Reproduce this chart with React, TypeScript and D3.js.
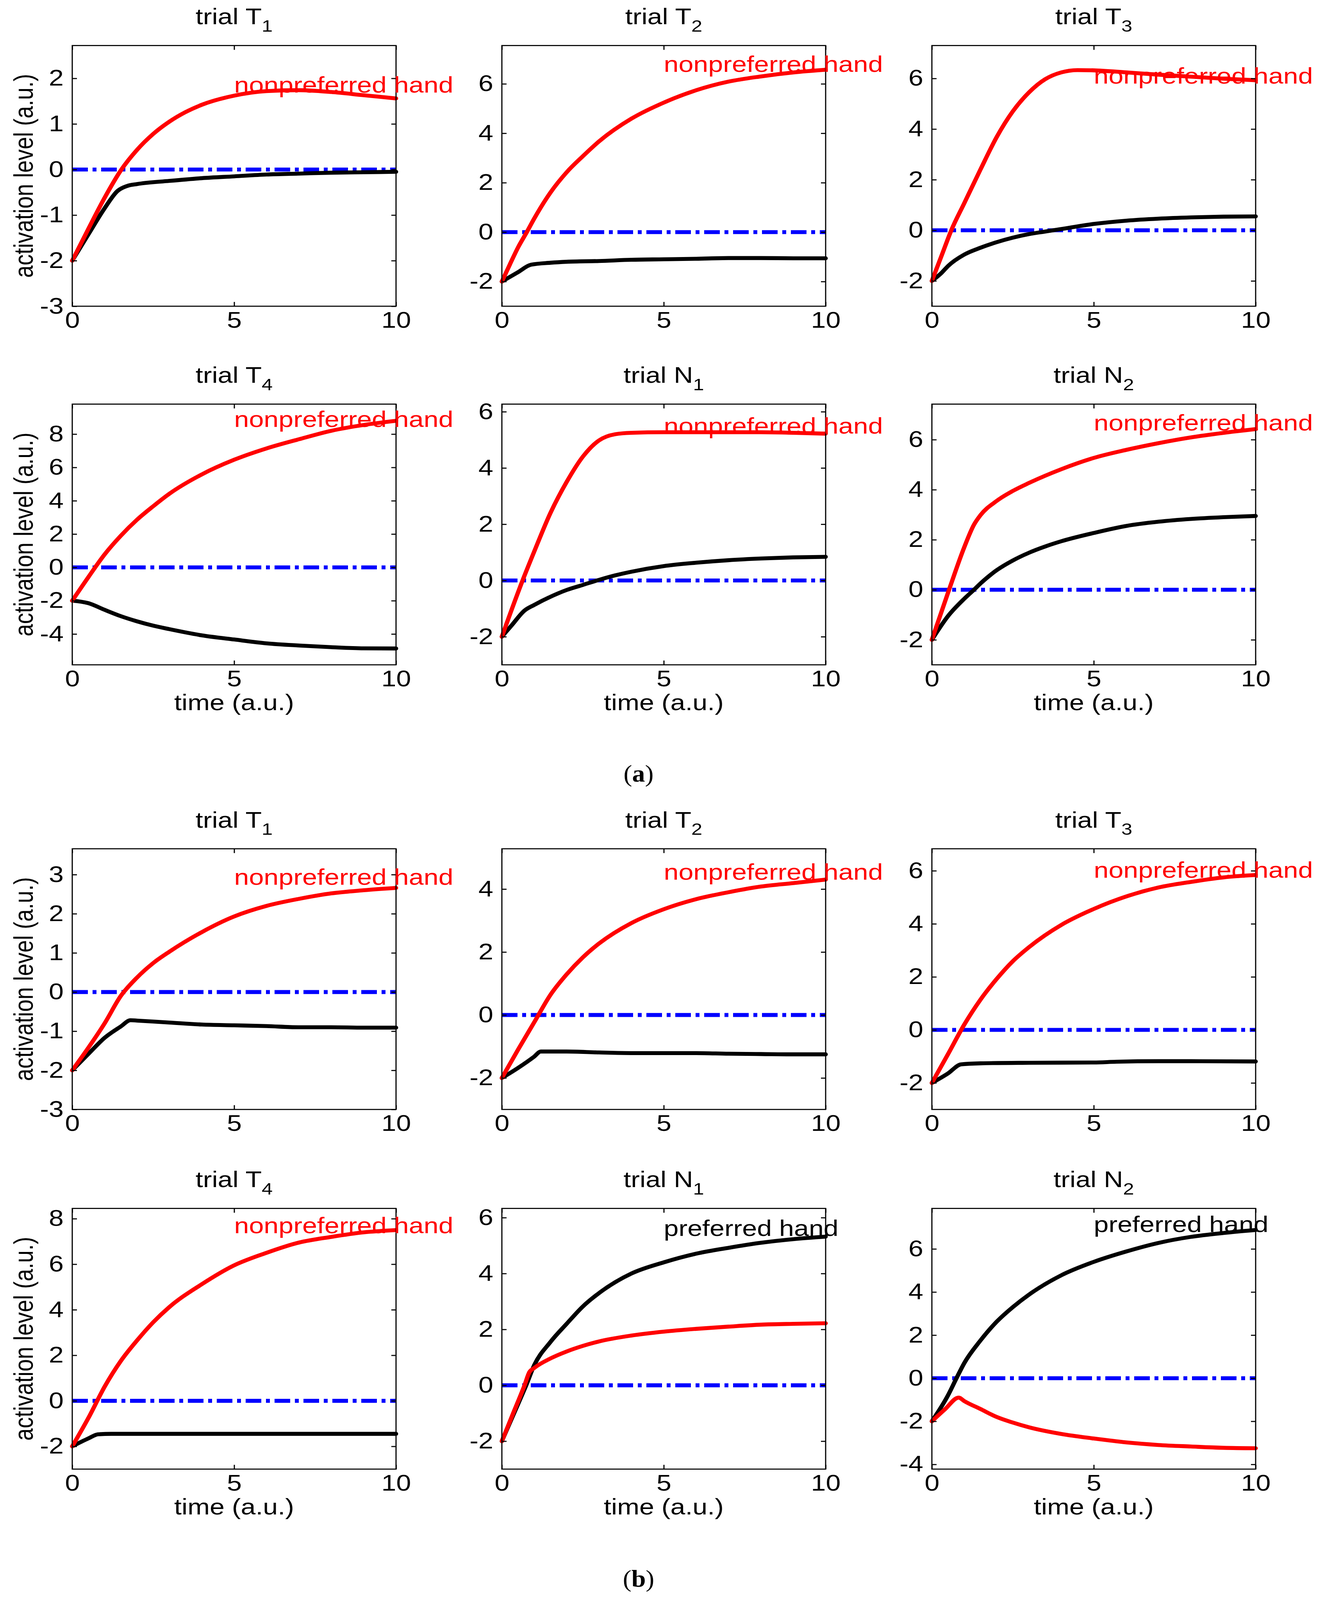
import { useEffect, useRef } from 'react';
import * as d3 from 'd3';

type Pt = [number, number];

// ---- (a) panels: [time, activation] ----
const a1Red: Pt[] = [[0, -2], [0.5, -1.3], [1, -0.62], [1.5, -0.02], [2, 0.43], [2.5, 0.78], [3, 1.05], [3.5, 1.26], [4, 1.42], [5, 1.62], [6, 1.72], [7, 1.74], [8, 1.7], [9, 1.63], [10, 1.56]];
const a1Black: Pt[] = [[0, -2], [0.5, -1.42], [1, -0.85], [1.4, -0.47], [1.7, -0.36], [2, -0.32], [3, -0.25], [4, -0.19], [5, -0.15], [6, -0.11], [7, -0.09], [8, -0.07], [9, -0.06], [10, -0.05]];

const a2Red: Pt[] = [[0, -2], [0.25, -1.3], [0.5, -0.62], [0.77, 0], [1, 0.55], [1.5, 1.6], [2, 2.42], [2.5, 3.07], [3, 3.67], [4, 4.59], [5, 5.24], [6, 5.74], [7, 6.09], [8, 6.3], [9, 6.46], [10, 6.57]];
const a2Black: Pt[] = [[0, -2], [0.5, -1.62], [0.9, -1.32], [1.5, -1.24], [2, -1.2], [3, -1.17], [4, -1.12], [5, -1.1], [6, -1.08], [7, -1.05], [8, -1.05], [9, -1.06], [10, -1.06]];

const a3Red: Pt[] = [[0, -2], [0.3, -1.0], [0.6, 0], [1, 1.07], [1.5, 2.4], [2, 3.68], [2.5, 4.7], [3, 5.45], [3.5, 5.97], [4, 6.24], [4.5, 6.33], [5, 6.32], [6, 6.24], [7, 6.15], [8, 6.07], [9, 5.99], [10, 5.93]];
const a3Black: Pt[] = [[0, -2], [0.3, -1.68], [0.5, -1.41], [1, -0.96], [1.5, -0.69], [2, -0.47], [2.5, -0.29], [3, -0.15], [3.5, -0.05], [4, 0.05], [5, 0.25], [6, 0.38], [7, 0.46], [8, 0.51], [9, 0.54], [10, 0.55]];

const a4Red: Pt[] = [[0, -2], [0.5, -0.58], [1, 0.78], [1.5, 1.9], [2, 2.86], [2.5, 3.67], [3, 4.42], [4, 5.58], [5, 6.46], [6, 7.14], [7, 7.69], [8, 8.2], [9, 8.55], [10, 8.8]];
const a4Black: Pt[] = [[0, -2], [0.5, -2.15], [1, -2.55], [1.5, -2.93], [2, -3.24], [2.5, -3.5], [3, -3.71], [4, -4.08], [5, -4.33], [6, -4.56], [7, -4.69], [8, -4.79], [9, -4.86], [10, -4.87]];

const a5Red: Pt[] = [[0, -2], [0.64, 0], [1, 1.03], [1.5, 2.4], [2, 3.5], [2.5, 4.4], [3, 4.98], [3.5, 5.2], [4, 5.25], [5, 5.27], [6, 5.27], [7, 5.27], [8, 5.27], [9, 5.25], [10, 5.22]];
const a5Black: Pt[] = [[0, -2], [0.3, -1.6], [0.7, -1.07], [1, -0.87], [1.5, -0.58], [2, -0.34], [2.5, -0.16], [3, 0.02], [3.5, 0.18], [4, 0.31], [5, 0.51], [6, 0.63], [7, 0.72], [8, 0.78], [9, 0.82], [10, 0.84]];

const a6Red: Pt[] = [[0, -2], [0.53, 0], [1, 1.7], [1.3, 2.6], [1.5, 2.98], [2, 3.55], [2.5, 3.95], [3, 4.27], [4, 4.82], [5, 5.27], [6, 5.59], [7, 5.86], [8, 6.09], [9, 6.27], [10, 6.42]];
const a6Black: Pt[] = [[0, -2], [0.5, -1.05], [1, -0.36], [1.3, 0], [1.5, 0.25], [2, 0.78], [2.5, 1.17], [3, 1.48], [3.5, 1.73], [4, 1.94], [5, 2.27], [6, 2.55], [7, 2.72], [8, 2.83], [9, 2.9], [10, 2.95]];

// ---- (b) panels ----
const b1Red: Pt[] = [[0, -2], [0.5, -1.42], [1, -0.8], [1.5, -0.1], [2, 0.37], [2.5, 0.74], [3, 1.03], [4, 1.53], [5, 1.93], [6, 2.2], [7, 2.38], [8, 2.52], [9, 2.6], [10, 2.66]];
const b1Black: Pt[] = [[0, -2], [0.5, -1.58], [1, -1.17], [1.5, -0.88], [1.8, -0.72], [2, -0.73], [3, -0.78], [4, -0.83], [5, -0.85], [6, -0.87], [7, -0.9], [8, -0.9], [9, -0.91], [10, -0.91]];

const b2Red: Pt[] = [[0, -2], [0.5, -1.1], [1, -0.23], [1.5, 0.64], [2, 1.29], [2.5, 1.83], [3, 2.27], [4, 2.92], [5, 3.36], [6, 3.68], [7, 3.9], [8, 4.08], [9, 4.19], [10, 4.3]];
const b2Black: Pt[] = [[0, -2], [0.5, -1.68], [1, -1.32], [1.2, -1.16], [2, -1.16], [3, -1.19], [4, -1.21], [5, -1.21], [6, -1.21], [7, -1.23], [8, -1.24], [9, -1.25], [10, -1.25]];

const b3Red: Pt[] = [[0, -2], [0.5, -0.91], [1, 0.2], [1.5, 1.14], [2, 1.92], [2.5, 2.59], [3, 3.12], [4, 3.96], [5, 4.56], [6, 5.03], [7, 5.37], [8, 5.58], [9, 5.75], [10, 5.84]];
const b3Black: Pt[] = [[0, -2], [0.5, -1.64], [0.9, -1.3], [1.5, -1.26], [3, -1.24], [5, -1.23], [5.7, -1.2], [7, -1.18], [8, -1.18], [10, -1.19]];

const b4Red: Pt[] = [[0, -2], [0.5, -0.75], [1, 0.62], [1.5, 1.75], [2, 2.65], [2.5, 3.45], [3, 4.12], [4, 5.12], [5, 5.95], [6, 6.5], [7, 6.95], [8, 7.2], [9, 7.4], [10, 7.5]];
const b4Black: Pt[] = [[0, -2], [0.5, -1.65], [0.8, -1.47], [1.2, -1.45], [2, -1.45], [4, -1.45], [6, -1.45], [8, -1.45], [10, -1.45]];

const b5Red: Pt[] = [[0, -2], [0.35, -1.0], [0.7, 0], [0.85, 0.47], [1, 0.62], [1.5, 0.96], [2, 1.21], [2.5, 1.41], [3, 1.57], [4, 1.78], [5, 1.92], [6, 2.02], [7, 2.1], [8, 2.17], [9, 2.2], [10, 2.22]];
const b5Black: Pt[] = [[0, -2], [0.5, -0.67], [0.75, 0], [1, 0.72], [1.5, 1.55], [2, 2.2], [2.5, 2.82], [3, 3.3], [4, 4.0], [5, 4.4], [6, 4.71], [7, 4.92], [8, 5.1], [9, 5.23], [10, 5.32]];

const b6Red: Pt[] = [[0, -2], [0.4, -1.45], [0.83, -0.9], [1, -1.06], [1.5, -1.43], [2, -1.8], [2.5, -2.06], [3, -2.28], [4, -2.59], [5, -2.8], [6, -2.98], [7, -3.1], [8, -3.17], [9, -3.23], [10, -3.25]];
const b6Black: Pt[] = [[0, -2], [0.5, -0.79], [0.76, 0], [1, 0.7], [1.5, 1.75], [2, 2.62], [2.5, 3.3], [3, 3.88], [4, 4.78], [5, 5.4], [6, 5.88], [7, 6.28], [8, 6.56], [9, 6.74], [10, 6.88]];

// titles, axis ranges, ticks and the hand labels
const titleLetters = ['T', 'T', 'T', 'T', 'N', 'N', 'T', 'T', 'T', 'T', 'N', 'N'];
const titleSubs = ['1', '2', '3', '4', '1', '2', '1', '2', '3', '4', '1', '2'];
const yDomains: [number, number][] = [
  [-3, 2.72], [-3, 7.55], [-3, 7.3], [-5.85, 9.8], [-3, 6.27], [-3, 7.42],
  [-3, 3.66], [-3, 5.28], [-3, 6.83], [-3, 8.45], [-3, 6.33], [-4.22, 7.88],
];
const yTickSets = [
  [-3, -2, -1, 0, 1, 2], [-2, 0, 2, 4, 6], [-2, 0, 2, 4, 6], [-4, -2, 0, 2, 4, 6, 8], [-2, 0, 2, 4, 6], [-2, 0, 2, 4, 6],
  [-3, -2, -1, 0, 1, 2, 3], [-2, 0, 2, 4], [-2, 0, 2, 4, 6], [-2, 0, 2, 4, 6, 8], [-2, 0, 2, 4, 6], [-4, -2, 0, 2, 4, 6],
];
const xTicks = [0, 5, 10];
const noteTexts = [
  'nonpreferred hand', 'nonpreferred hand', 'nonpreferred hand', 'nonpreferred hand', 'nonpreferred hand', 'nonpreferred hand',
  'nonpreferred hand', 'nonpreferred hand', 'nonpreferred hand', 'nonpreferred hand', 'preferred hand', 'preferred hand',
];
const noteIsRed = [true, true, true, true, true, true, true, true, true, true, false, false];
const noteX = 5;
const noteYs = [1.86, 6.8, 6.1, 8.9, 5.5, 6.68, 2.94, 4.55, 6.03, 7.7, 5.62, 7.14];
const redSeries = [a1Red, a2Red, a3Red, a4Red, a5Red, a6Red, b1Red, b2Red, b3Red, b4Red, b5Red, b6Red];
const blackSeries = [a1Black, a2Black, a3Black, a4Black, a5Black, a6Black, b1Black, b2Black, b3Black, b4Black, b5Black, b6Black];
const captions = ['a', 'b'];

const W = 3390;
const H = 4462;
const FONT = '"Liberation Sans", Arial, Helvetica, sans-serif';
const colX = [185, 1285, 2386];
const rowY = [127, 1127, 2367, 3370];
const plotW = 829;
const plotH = 727;
const FS = 62;
const SX = 1.1; // the figure is slightly stretched horizontally

export default function App() {
  const svgRef = useRef<SVGSVGElement>(null);

  useEffect(() => {
    if (!svgRef.current) return;
    const svg = d3.select(svgRef.current);
    svg.selectAll('*').remove();
    svg.append('rect').attr('width', W).attr('height', H).attr('fill', '#fff');

    redSeries.forEach((red, i) => {
      const row = Math.floor(i / 3);
      const col = i % 3;
      const g = svg.append('g').attr('transform', `translate(${colX[col]},${rowY[row]})`);

      const x = d3.scaleLinear().domain([0, 10]).range([0, plotW]);
      const y = d3.scaleLinear().domain(yDomains[i]).range([plotH, 0]);

      const styleAxis = (ax: any, labels: boolean) => {
        ax.select('.domain').remove();
        ax.attr('font-size', FS).attr('font-family', FONT);
        ax.selectAll('line').attr('stroke', '#000').attr('stroke-width', 3);
        if (labels) {
          ax.selectAll('text').each(function (this: any) {
            const t = d3.select(this);
            const tx = +t.attr('x') || 0;
            t.attr('transform', `translate(${tx * (1 - SX)},0) scale(${SX},1)`);
          });
        }
      };

      // zero reference line
      g.append('line')
        .attr('x1', x(0)).attr('x2', x(10))
        .attr('y1', y(0)).attr('y2', y(0))
        .attr('stroke', '#0000ff')
        .attr('stroke-width', 11)
        .attr('stroke-dasharray', '40,12,10,12');

      const line = d3.line<Pt>()
        .x(d => x(d[0]))
        .y(d => y(d[1]))
        .curve(d3.curveMonotoneX);

      g.append('path').attr('d', line(blackSeries[i]) || '')
        .attr('fill', 'none').attr('stroke', '#000').attr('stroke-width', 11)
        .attr('stroke-linecap', 'round').attr('stroke-linejoin', 'round');
      g.append('path').attr('d', line(red) || '')
        .attr('fill', 'none').attr('stroke', '#ff0000').attr('stroke-width', 11)
        .attr('stroke-linecap', 'round').attr('stroke-linejoin', 'round');

      // axes (MATLAB style: inward ticks on all four sides)
      const left = g.append('g').call(
        d3.axisLeft(y).tickValues(yTickSets[i]).tickSize(-12).tickPadding(22).tickFormat(d => String(d))
      );
      styleAxis(left, true);
      const right = g.append('g').attr('transform', `translate(${plotW},0)`).call(
        d3.axisRight(y).tickValues(yTickSets[i]).tickSize(-12).tickFormat(() => '')
      );
      styleAxis(right, false);
      const bottom = g.append('g').attr('transform', `translate(0,${plotH})`).call(
        d3.axisBottom(x).tickValues(xTicks).tickSize(-12).tickPadding(16).tickFormat(d => String(d))
      );
      styleAxis(bottom, true);
      const top = g.append('g').call(
        d3.axisTop(x).tickValues(xTicks).tickSize(-12).tickFormat(() => '')
      );
      styleAxis(top, false);

      g.append('rect')
        .attr('width', plotW).attr('height', plotH)
        .attr('fill', 'none').attr('stroke', '#000').attr('stroke-width', 3);

      // title
      const title = g.append('text')
        .attr('transform', `translate(${plotW / 2},-59) scale(${SX},1)`)
        .attr('text-anchor', 'middle')
        .attr('font-family', FONT).attr('font-size', FS).attr('fill', '#000');
      title.append('tspan').text(`trial ${titleLetters[i]}`);
      title.append('tspan').attr('dy', 20).attr('font-size', 46).text(titleSubs[i]);

      // hand label
      g.append('text')
        .attr('transform', `translate(${x(noteX)},${y(noteYs[i])}) scale(${SX},1)`)
        .attr('dominant-baseline', 'central')
        .attr('font-family', FONT).attr('font-size', FS)
        .attr('fill', noteIsRed[i] ? '#ff0000' : '#000')
        .text(noteTexts[i]);

      if (col === 0) {
        g.append('text')
          .attr('transform', `translate(-101,${plotH / 2}) scale(${SX},1) rotate(-90)`)
          .attr('text-anchor', 'middle')
          .attr('font-family', FONT).attr('font-size', FS).attr('fill', '#000')
          .text('activation level (a.u.)');
      }
      if (row === 1 || row === 3) {
        g.append('text')
          .attr('transform', `translate(${plotW / 2},${plotH + 126}) scale(${SX},1)`)
          .attr('text-anchor', 'middle')
          .attr('font-family', FONT).attr('font-size', FS).attr('fill', '#000')
          .text('time (a.u.)');
      }
    });

    // sub-figure captions
    const capY = [2180, 4425];
    captions.forEach((c, k) => {
      const t = svg.append('text')
        .attr('x', 1635).attr('y', capY[k])
        .attr('text-anchor', 'middle')
        .attr('font-family', '"Liberation Serif", "Times New Roman", serif')
        .attr('font-size', 66).attr('fill', '#000');
      t.append('tspan').text('(');
      t.append('tspan').attr('font-weight', 'bold').text(c);
      t.append('tspan').text(')');
    });
  }, []);

  // the visible page can be shorter than the requested size, so the figure is
  // stretched over the whole viewport to keep every part of it in view
  return (
    <svg
      ref={svgRef}
      viewBox={`0 0 ${W} ${H}`}
      preserveAspectRatio="none"
      style={{ position: 'fixed', left: 0, top: 0, width: '100vw', height: '100vh', display: 'block' }}
    />
  );
}
